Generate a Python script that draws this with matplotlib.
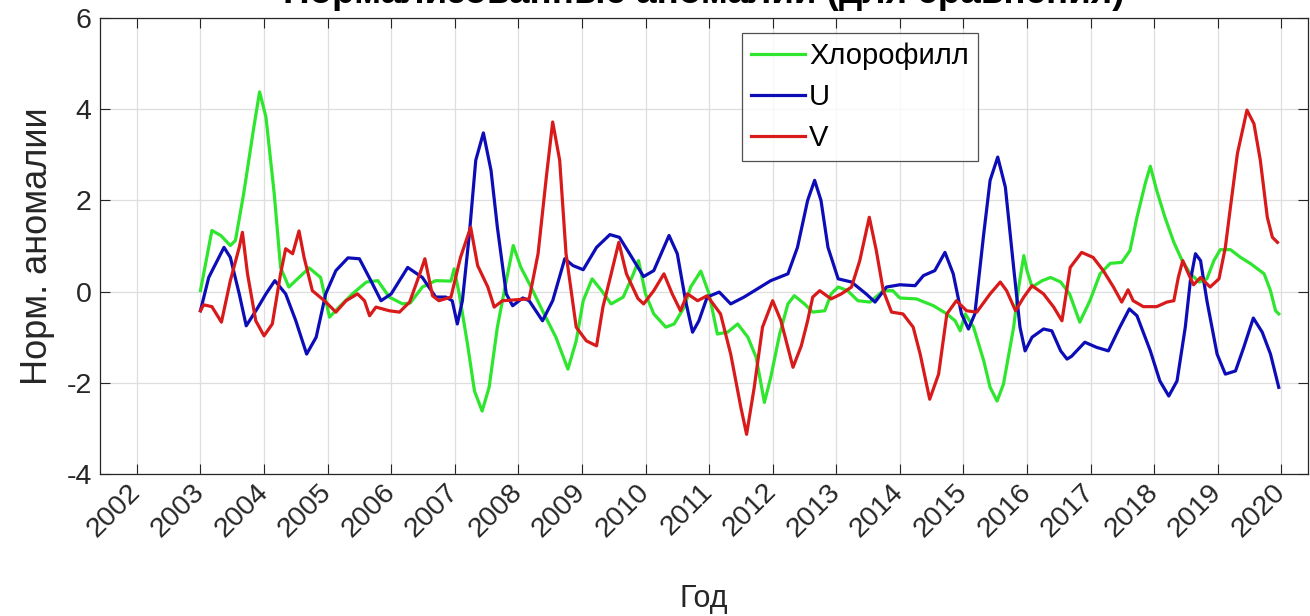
import matplotlib
matplotlib.use("Agg")
from matplotlib import pyplot as plt

plt.rcParams['font.family'] = ['Liberation Sans', 'DejaVu Sans']
plt.rcParams['axes.unicode_minus'] = False

# Хлорофилл
chl_t = [2003.00, 2003.18, 2003.32, 2003.47, 2003.55, 2003.68, 2003.84, 2003.93, 2004.03, 2004.16,
         2004.26, 2004.39, 2004.55, 2004.71, 2004.89, 2005.03, 2005.18, 2005.39, 2005.61, 2005.79,
         2005.97, 2006.18, 2006.30, 2006.49, 2006.70, 2006.94, 2006.99, 2007.07, 2007.20, 2007.31,
         2007.43, 2007.54, 2007.67, 2007.81, 2007.92, 2008.04, 2008.20, 2008.38, 2008.59, 2008.78,
         2008.91, 2009.02, 2009.16, 2009.31, 2009.46, 2009.65, 2009.81, 2009.89, 2010.00, 2010.13,
         2010.32, 2010.45, 2010.61, 2010.71, 2010.87, 2011.00, 2011.13, 2011.29, 2011.45, 2011.61,
         2011.74, 2011.87, 2011.97, 2012.11, 2012.24, 2012.34, 2012.50, 2012.63, 2012.82, 2012.92,
         2013.03, 2013.18, 2013.34, 2013.53, 2013.74, 2013.89, 2014.00, 2014.26, 2014.53, 2014.74,
         2014.87, 2014.95, 2015.03, 2015.16, 2015.32, 2015.42, 2015.53, 2015.63, 2015.79, 2015.87,
         2015.95, 2016.00, 2016.08, 2016.24, 2016.37, 2016.53, 2016.67, 2016.83, 2016.99, 2017.15,
         2017.31, 2017.49, 2017.62, 2017.73, 2017.86, 2017.94, 2018.04, 2018.17, 2018.31, 2018.44,
         2018.57, 2018.71, 2018.83, 2018.94, 2019.04, 2019.20, 2019.36, 2019.52, 2019.73, 2019.83,
         2019.91, 2019.96]
chl_v = [0.02, 1.34, 1.23, 1.01, 1.12, 2.15, 3.61, 4.38, 3.83, 2.15,
         0.53, 0.10, 0.31, 0.52, 0.31, -0.56, -0.34, -0.05, 0.21, 0.24,
         -0.12, -0.27, -0.25, 0.10, 0.24, 0.23, 0.50, -0.05, -1.15, -2.18,
         -2.62, -2.10, -0.78, 0.24, 1.01, 0.53, 0.10, -0.42, -1.00, -1.70,
         -1.08, -0.20, 0.28, 0.02, -0.27, -0.12, 0.39, 0.68, -0.05, -0.49,
         -0.78, -0.71, -0.34, 0.10, 0.45, -0.05, -0.93, -0.89, -0.71, -1.00,
         -1.44, -2.43, -1.88, -0.93, -0.27, -0.09, -0.27, -0.45, -0.42, -0.05,
         0.10, 0.02, -0.20, -0.23, 0.02, 0.02, -0.14, -0.16, -0.31, -0.49,
         -0.64, -0.86, -0.49, -0.78, -1.52, -2.10, -2.40, -2.03, -0.78, 0.10,
         0.79, 0.46, 0.10, 0.24, 0.31, 0.21, -0.05, -0.67, -0.20, 0.39,
         0.62, 0.64, 0.90, 1.63, 2.37, 2.75, 2.22, 1.63, 1.08, 0.68,
         0.39, 0.21, 0.28, 0.68, 0.92, 0.92, 0.75, 0.61, 0.39, 0.02,
         -0.42, -0.49]

# U
u_t = [2003.00, 2003.13, 2003.37, 2003.47, 2003.61, 2003.72, 2003.89, 2004.03, 2004.17, 2004.34,
       2004.50, 2004.67, 2004.82, 2004.97, 2005.13, 2005.32, 2005.50, 2005.68, 2005.84, 2006.00,
       2006.26, 2006.49, 2006.70, 2006.86, 2006.96, 2007.04, 2007.12, 2007.23, 2007.33, 2007.45,
       2007.57, 2007.67, 2007.81, 2007.91, 2008.07, 2008.17, 2008.38, 2008.54, 2008.73, 2008.86,
       2009.02, 2009.23, 2009.44, 2009.59, 2009.75, 2009.97, 2010.13, 2010.37, 2010.50, 2010.63,
       2010.74, 2010.84, 2010.97, 2011.16, 2011.34, 2011.55, 2011.76, 2011.97, 2012.24, 2012.39,
       2012.55, 2012.66, 2012.76, 2012.87, 2013.03, 2013.24, 2013.47, 2013.61, 2013.79, 2014.00,
       2014.24, 2014.37, 2014.55, 2014.71, 2014.84, 2014.97, 2015.08, 2015.18, 2015.32, 2015.42,
       2015.54, 2015.66, 2015.79, 2015.89, 2015.97, 2016.08, 2016.26, 2016.39, 2016.53, 2016.63,
       2016.70, 2016.91, 2017.09, 2017.28, 2017.46, 2017.61, 2017.73, 2017.94, 2018.09, 2018.23,
       2018.36, 2018.49, 2018.57, 2018.65, 2018.73, 2018.83, 2018.99, 2019.12, 2019.28, 2019.41,
       2019.56, 2019.70, 2019.83, 2019.96]
u_v = [-0.42, 0.31, 0.97, 0.75, -0.05, -0.75, -0.38, -0.05, 0.24, -0.05,
       -0.64, -1.37, -1.00, -0.05, 0.46, 0.74, 0.72, 0.24, -0.20, -0.05,
       0.53, 0.31, -0.12, -0.12, -0.20, -0.71, -0.20, 1.27, 2.88, 3.48,
       2.66, 1.41, -0.05, -0.31, -0.14, -0.20, -0.64, -0.20, 0.72, 0.57,
       0.48, 0.97, 1.25, 1.19, 0.83, 0.33, 0.46, 1.23, 0.83, -0.20,
       -0.89, -0.64, -0.12, -0.01, -0.27, -0.12, 0.06, 0.24, 0.39, 0.97,
       2.00, 2.44, 2.00, 0.97, 0.28, 0.21, -0.05, -0.23, 0.10, 0.15,
       0.13, 0.35, 0.46, 0.86, 0.39, -0.49, -0.82, -0.49, 1.27, 2.44,
       2.95, 2.29, 0.53, -0.78, -1.30, -1.00, -0.82, -0.86, -1.30, -1.48,
       -1.42, -1.11, -1.22, -1.30, -0.78, -0.38, -0.53, -1.30, -1.96, -2.29,
       -1.96, -0.78, 0.24, 0.83, 0.68, -0.20, -1.37, -1.81, -1.74, -1.22,
       -0.58, -0.89, -1.37, -2.10]

# V
v_t = [2003.00, 2003.05, 2003.18, 2003.33, 2003.47, 2003.61, 2003.66, 2003.74, 2003.87, 2004.00,
       2004.13, 2004.26, 2004.34, 2004.45, 2004.55, 2004.63, 2004.76, 2004.95, 2005.13, 2005.29,
       2005.47, 2005.58, 2005.66, 2005.76, 2005.97, 2006.13, 2006.29, 2006.45, 2006.53, 2006.65,
       2006.75, 2006.94, 2007.09, 2007.25, 2007.36, 2007.52, 2007.62, 2007.75, 2007.96, 2008.17,
       2008.31, 2008.44, 2008.54, 2008.65, 2008.75, 2008.91, 2009.07, 2009.23, 2009.33, 2009.46,
       2009.58, 2009.70, 2009.88, 2009.97, 2010.13, 2010.29, 2010.42, 2010.55, 2010.66, 2010.82,
       2010.97, 2011.18, 2011.34, 2011.50, 2011.59, 2011.71, 2011.84, 2012.00, 2012.13, 2012.32,
       2012.45, 2012.55, 2012.63, 2012.74, 2012.92, 2013.08, 2013.24, 2013.37, 2013.52, 2013.63,
       2013.74, 2013.87, 2014.05, 2014.21, 2014.32, 2014.47, 2014.61, 2014.74, 2014.89, 2015.05,
       2015.21, 2015.42, 2015.58, 2015.68, 2015.82, 2015.95, 2016.08, 2016.26, 2016.42, 2016.55,
       2016.68, 2016.86, 2017.04, 2017.20, 2017.36, 2017.49, 2017.59, 2017.67, 2017.83, 2018.04,
       2018.20, 2018.31, 2018.38, 2018.45, 2018.54, 2018.62, 2018.73, 2018.88, 2019.02, 2019.12,
       2019.20, 2019.31, 2019.46, 2019.57, 2019.67, 2019.78, 2019.86, 2019.94]
v_v = [-0.42, -0.29, -0.33, -0.67, 0.24, 0.97, 1.30, 0.39, -0.64, -0.97,
       -0.71, 0.39, 0.94, 0.83, 1.33, 0.75, 0.02, -0.20, -0.45, -0.20,
       -0.05, -0.20, -0.53, -0.34, -0.42, -0.45, -0.23, 0.39, 0.72, -0.09,
       -0.20, -0.12, 0.75, 1.41, 0.57, 0.10, -0.34, -0.20, -0.18, -0.16,
       0.83, 2.51, 3.72, 2.88, 0.83, -0.78, -1.08, -1.19, -0.34, 0.39,
       1.08, 0.39, -0.15, -0.27, 0.02, 0.39, -0.05, -0.42, -0.05, -0.20,
       -0.09, -0.49, -1.37, -2.54, -3.13, -2.10, -0.78, -0.20, -0.64, -1.66,
       -1.19, -0.64, -0.12, 0.02, -0.16, -0.05, 0.10, 0.68, 1.63, 0.90,
       0.02, -0.45, -0.49, -0.78, -1.37, -2.36, -1.81, -0.49, -0.20, -0.42,
       -0.45, -0.05, 0.21, 0.02, -0.42, -0.12, 0.13, -0.05, -0.34, -0.64,
       0.53, 0.86, 0.75, 0.46, 0.10, -0.23, 0.04, -0.20, -0.33, -0.33,
       -0.23, -0.20, 0.31, 0.68, 0.39, 0.15, 0.31, 0.10, 0.28, 0.97,
       1.85, 3.03, 3.98, 3.68, 2.88, 1.63, 1.19, 1.08]

years = list(range(2002, 2021))
yticks = [-4, -2, 0, 2, 4, 6]

dark = (0.15, 0.15, 0.15)

fig = plt.figure(figsize=(13.1, 6.16), dpi=100)
ax = fig.add_axes([100 / 1310, 1 - 474 / 616, 1208 / 1310, 456 / 616])

ax.plot(chl_t, chl_v, color=(0.18, 0.9, 0.18), lw=2.3, label='Хлорофилл')
ax.plot(u_t, u_v, color=(0.05, 0.05, 0.72), lw=2.3, label='U')
ax.plot(v_t, v_v, color=(0.85, 0.1, 0.1), lw=2.3, label='V')

ax.set_xlim(2001.42, 2020.42)
ax.set_ylim(-4, 6)
ax.set_xticks(years)
ax.set_xticklabels([str(y) for y in years], rotation=45, ha='right', va='center',
                   rotation_mode='anchor')
ax.set_yticks(yticks)
ax.tick_params(direction='in', top=True, right=True, length=7, width=0.8,
               labelsize=20.5, colors=dark, pad=6)
ax.tick_params(axis='x', pad=10)
for s in ax.spines.values():
    s.set_color(dark)
    s.set_linewidth(0.9)
ax.grid(True, color=(0.87, 0.87, 0.87), lw=0.9)
ax.set_axisbelow(True)

ax.set_xlabel('Год', fontsize=22, color=dark, labelpad=30)
ax.set_ylabel('Норм. аномалии', fontsize=26, color=dark, labelpad=8)
ax.set_title('Нормализованные аномалии (для сравнения)', fontsize=26.5, fontweight='bold',
             pad=5, va='bottom')

leg = ax.legend(loc='upper left', bbox_to_anchor=(642 / 1208, 1 - 15 / 456), fontsize=21,
                frameon=True, fancybox=False, edgecolor=dark,
                handlelength=1.85, handletextpad=0.15, labelspacing=0.45, borderpad=0.3,
                borderaxespad=0)
leg.get_frame().set_linewidth(0.9)

fig.savefig('out.png', dpi=100)
